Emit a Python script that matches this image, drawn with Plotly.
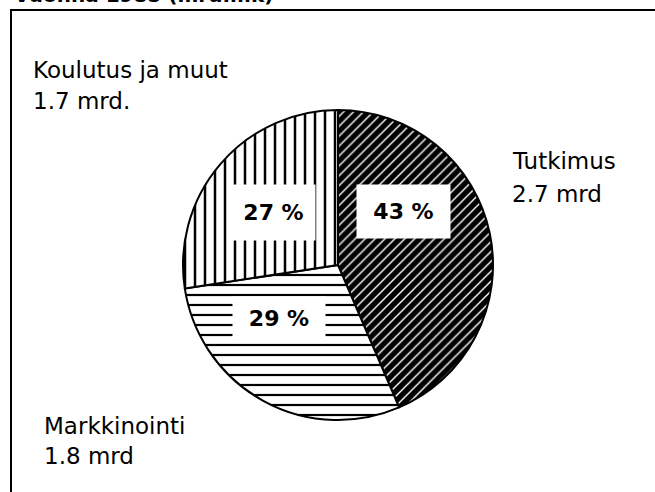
import plotly.graph_objects as go

# ---- data ----
categories = ["Tutkimus", "Markkinointi", "Koulutus ja muut"]
values_mrd = [2.7, 1.8, 1.7]
value_labels = ["2.7 mrd", "1.8 mrd", "1.7 mrd."]
percent_labels = ["43 %", "29 %", "27 %"]
title_text = "Vuonna 1985 (mrd.mk)"

W, H = 655, 492


def px(x):
    return x / W


def py(y):
    return 1 - y / H


fig = go.Figure()

fig.add_trace(go.Pie(
    labels=categories,
    values=values_mrd,
    sort=False,
    direction="clockwise",
    rotation=0,
    textinfo="none",
    hoverinfo="skip",
    showlegend=False,
    domain=dict(x=[px(183), px(493)], y=[py(420), py(110)]),
    marker=dict(
        colors=["black", "white", "white"],
        line=dict(color="black", width=2),
        pattern=dict(
            shape=["/", "-", "|"],
            bgcolor=["black", "white", "white"],
            fgcolor=["white", "black", "black"],
            size=[7, 10, 10],
            solidity=[0.2, 0.22, 0.25],
            fillmode="replace",
        ),
    ),
))

annotations = []
label_font = dict(family="DejaVu Sans", size=23, color="black")

# outer labels: (left x, category line centre y, value line centre y)
outer_pos = {
    "Tutkimus": (510, 161, 194),
    "Markkinointi": (42, 426, 456),
    "Koulutus ja muut": (31, 70, 101),
}
for cat, vl in zip(categories, value_labels):
    x, y1, y2 = outer_pos[cat]
    annotations.append(dict(text=cat, x=px(x), y=py(y1), xref="paper", yref="paper",
                            xanchor="left", yanchor="middle", showarrow=False, font=label_font))
    annotations.append(dict(text=vl, x=px(x), y=py(y2), xref="paper", yref="paper",
                            xanchor="left", yanchor="middle", showarrow=False, font=label_font))

# percentage boxes: (centre x, centre y, width, height)
box_pos = {
    "Tutkimus": (403, 211, 93, 53),
    "Markkinointi": (279, 318, 92, 43),
    "Koulutus ja muut": (273, 212, 83, 55),
}
for cat, pl in zip(categories, percent_labels):
    cx, cy, bw, bh = box_pos[cat]
    annotations.append(dict(text=f"<b>{pl}</b>", x=px(cx), y=py(cy), xref="paper", yref="paper",
                            xanchor="center", yanchor="middle", showarrow=False,
                            width=bw, height=bh, bgcolor="white", borderpad=0,
                            font=dict(family="DejaVu Sans", size=22, color="black")))

# clipped title at top (only its lower edge is visible in the reference)
annotations.append(dict(text=f"<b>{title_text}</b>", x=px(12), y=py(9), xref="paper", yref="paper",
                        xanchor="left", yanchor="bottom", showarrow=False,
                        font=dict(family="DejaVu Sans", size=20, color="black")))

fig.update_layout(
    width=W, height=H,
    margin=dict(l=0, r=0, t=0, b=0),
    paper_bgcolor="white",
    plot_bgcolor="white",
    annotations=annotations,
    shapes=[dict(type="rect", xref="paper", yref="paper",
                 x0=px(11), x1=1.1, y0=-0.1, y1=py(10),
                 line=dict(color="black", width=2), fillcolor="rgba(0,0,0,0)")],
)

fig.write_html("out.html",
               config={"displayModeBar": False},
               post_script="document.body.style.margin='0';document.body.style.overflow='hidden';")
